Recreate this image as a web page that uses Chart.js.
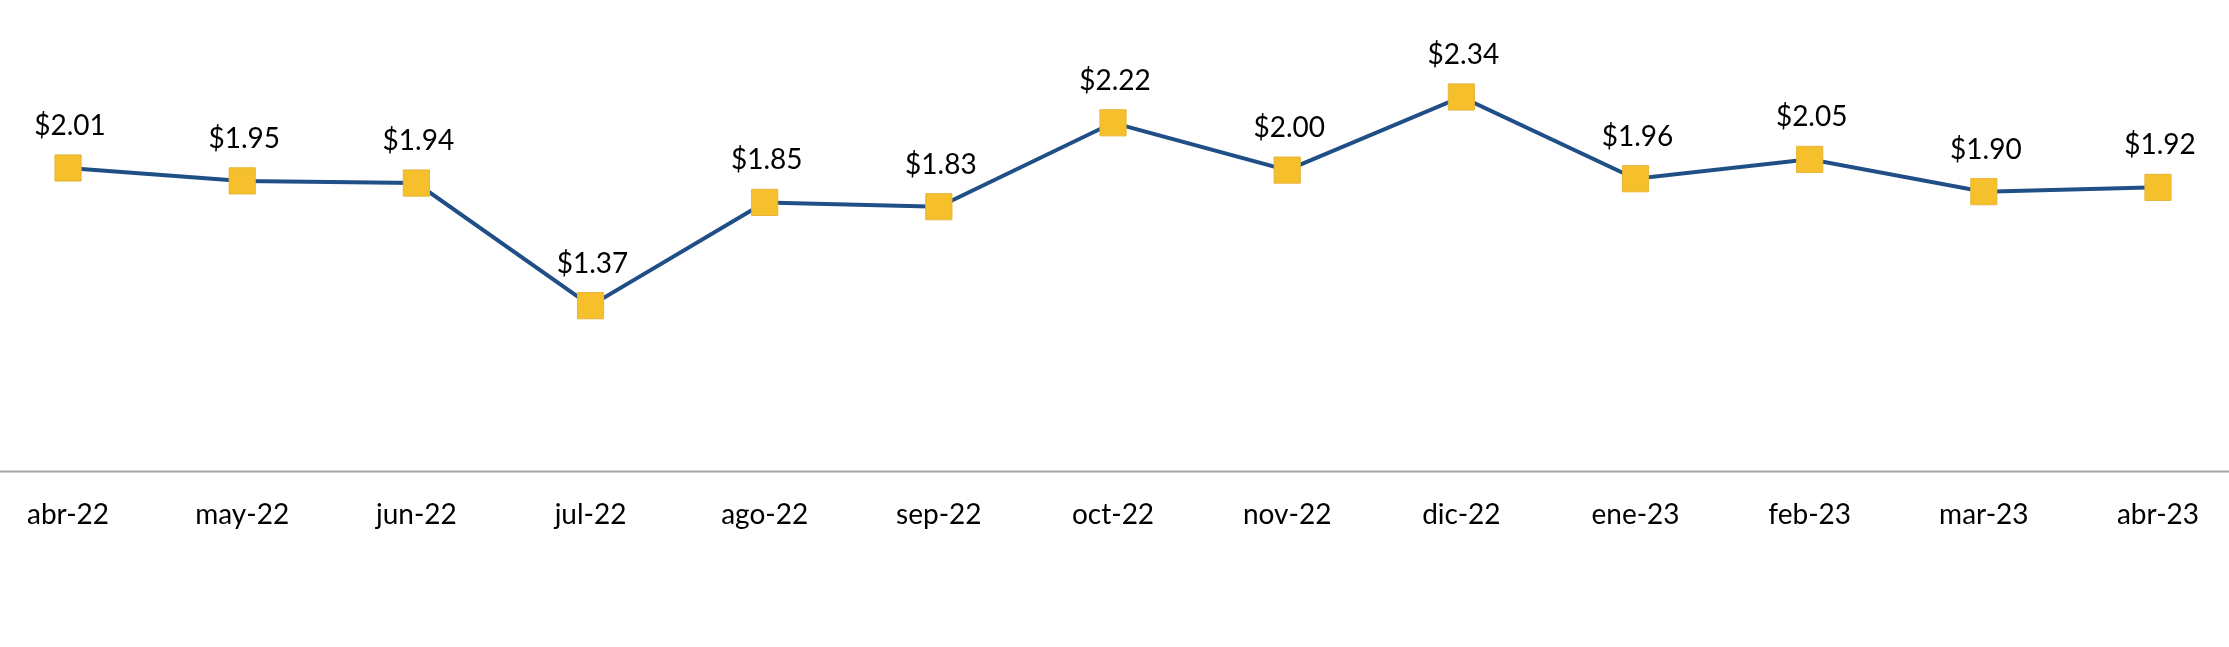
<!DOCTYPE html>
<html>
<head>
<meta charset="utf-8">
<script src="https://cdn.jsdelivr.net/npm/chart.js@4/dist/chart.umd.min.js"></script>
<style>
  html, body { margin:0; padding:0; background:#fff; }
  #wrap { width:2229px; height:647px; }
</style>
</head>
<body>
<div id="wrap"><canvas id="c" width="2229" height="647"></canvas></div>
<script>
// datos
const meses = ["abr-22","may-22","jun-22","jul-22","ago-22","sep-22","oct-22","nov-22","dic-22","ene-23","feb-23","mar-23","abr-23"];
const precios = [2.01, 1.95, 1.94, 1.37, 1.85, 1.83, 2.22, 2.00, 2.34, 1.96, 2.05, 1.90, 1.92];

const FONT = "Lato, 'Open Sans', 'Noto Sans', sans-serif";

// linea del eje a todo el ancho + etiquetas de valor
const etiquetas = {
  id: "etiquetas",
  beforeDatasetsDraw(chart) {
    const ctx = chart.ctx;
    const y = chart.scales.x.top;
    ctx.save();
    ctx.strokeStyle = "#a6a6a6";
    ctx.lineWidth = 2;
    ctx.beginPath();
    ctx.moveTo(0, y);
    ctx.lineTo(chart.width, y);
    ctx.stroke();
    ctx.restore();
  },
  afterDatasetsDraw(chart) {
    const ctx = chart.ctx;
    const meta = chart.getDatasetMeta(0);
    ctx.save();
    ctx.font = "28px " + FONT;
    ctx.fillStyle = "#000";
    ctx.textAlign = "center";
    ctx.textBaseline = "middle";
    meta.data.forEach((pt, i) => {
      ctx.fillText("$" + precios[i].toFixed(2), pt.x + 2, pt.y - 42);
    });
    ctx.restore();
  }
};

new Chart(document.getElementById("c"), {
  type: "line",
  data: {
    labels: meses,
    datasets: [{
      data: precios,
      borderColor: "#1f4f86",
      borderWidth: 4,
      tension: 0,
      pointStyle: "rect",
      pointRadius: 18.5,
      pointHoverRadius: 18.5,
      pointBackgroundColor: "#f6c02c",
      pointBorderColor: "#e6b53a",
      pointBorderWidth: 1
    }]
  },
  options: {
    responsive: false,
    animation: false,
    events: [],
    layout: { padding: { left: 51, right: 71, top: 7, bottom: 88 } },
    scales: {
      x: {
        offset: false,
        grid: { display: false, drawTicks: false },
        border: { display: false },
        ticks: { color: "#000", font: { family: FONT, size: 28 }, padding: 27, maxRotation: 0, autoSkip: false }
      },
      y: {
        display: false,
        min: 0.6,
        max: 2.70
      }
    },
    plugins: {
      legend: { display: false },
      tooltip: { enabled: false }
    }
  },
  plugins: [etiquetas]
});
</script>
</body>
</html>
